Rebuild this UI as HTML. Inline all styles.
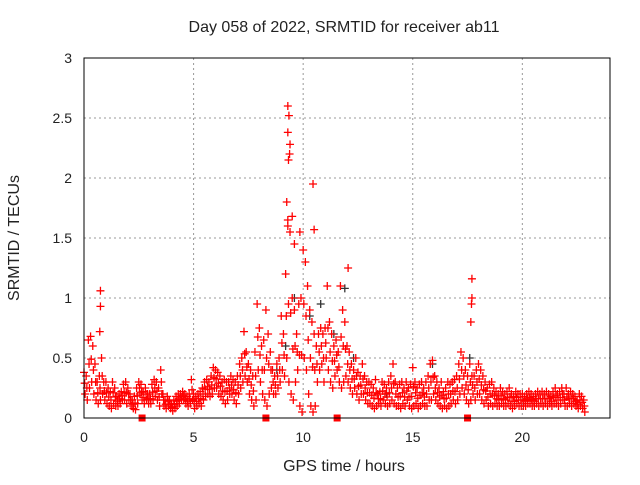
<!DOCTYPE html>
<html><head><meta charset="utf-8"><style>
body{margin:0;background:#fff}
svg text{font-family:"Liberation Sans",sans-serif;font-size:14px;fill:#222}
svg text.big{font-size:16px}
</style></head><body>
<svg id="c" width="640" height="480">
<text class="big" x="344" y="32" text-anchor="middle">Day 058 of 2022, SRMTID for receiver ab11</text>
<text class="big" x="344" y="471" text-anchor="middle">GPS time / hours</text>
<text class="big" transform="translate(19,238) rotate(-90)" text-anchor="middle">SRMTID / TECUs</text>
<g id="grid"></g><g id="ticks"></g><g id="marks"></g>
<rect x="84" y="58" width="526" height="360" fill="none" stroke="#000"/>
</svg>
<script>
const xTicks=[0,5,10,15,20];
const yTicks=[0,0.5,1,1.5,2,2.5,3];
const yTickLabels=["0","0.5","1","1.5","2","2.5","3"];
const times=[0.0,0.1,0.2,0.3,0.4,0.5,0.6,0.7,0.8,0.9,1.0,1.1,1.2,1.3,1.4,1.5,1.6,1.7,1.8,1.9,2.0,2.1,2.2,2.3,2.4,2.5,2.6,2.7,2.8,2.9,3.0,3.1,3.2,3.3,3.4,3.5,3.6,3.7,3.8,3.9,4.0,4.1,4.2,4.3,4.4,4.5,4.6,4.7,4.8,4.9,5.0,5.1,5.2,5.3,5.4,5.5,5.6,5.7,5.8,5.9,6.0,6.1,6.2,6.3,6.4,6.5,6.6,6.7,6.8,6.9,7.0,7.1,7.2,7.3,7.4,7.5,7.6,7.7,7.8,7.9,8.0,8.1,8.2,8.3,8.4,8.5,8.6,8.7,8.8,8.9,9.0,9.1,9.2,9.3,9.4,9.5,9.6,9.7,9.8,9.9,10.0,10.1,10.2,10.3,10.4,10.5,10.6,10.7,10.8,10.9,11.0,11.1,11.2,11.3,11.4,11.5,11.6,11.7,11.8,11.9,12.0,12.1,12.2,12.3,12.4,12.5,12.6,12.7,12.8,12.9,13.0,13.1,13.2,13.3,13.4,13.5,13.6,13.7,13.8,13.9,14.0,14.1,14.2,14.3,14.4,14.5,14.6,14.7,14.8,14.9,15.0,15.1,15.2,15.3,15.4,15.5,15.6,15.7,15.8,15.9,16.0,16.1,16.2,16.3,16.4,16.5,16.6,16.7,16.8,16.9,17.0,17.1,17.2,17.3,17.4,17.5,17.6,17.7,17.8,17.9,18.0,18.1,18.2,18.3,18.4,18.5,18.6,18.7,18.8,18.9,19.0,19.1,19.2,19.3,19.4,19.5,19.6,19.7,19.8,19.9,20.0,20.1,20.2,20.3,20.4,20.5,20.6,20.7,20.8,20.9,21.0,21.1,21.2,21.3,21.4,21.5,21.6,21.7,21.8,21.9,22.0,22.1,22.2,22.3,22.4,22.5,22.6,22.7,22.8];
const valsA=[.38,.35,.65,.68,.6,.45,.3,.35,.5,.3,.3,.25,.22,.3,.25,.18,.2,.22,.28,.3,.25,.2,.15,.18,.25,.3,.28,.22,.25,.2,.2,.28,.32,.3,.25,.4,.2,.15,.18,.15,.12,.15,.18,.2,.2,.22,.2,.18,.2,.32,.2,.18,.2,.22,.25,.3,.32,.3,.35,.42,.4,.38,.35,.3,.32,.3,.3,.35,.32,.3,.35,.45,.5,.72,.55,.45,.4,.35,.55,.95,.75,.6,.65,.9,.7,.55,.4,.35,.45,.5,.85,.7,1.2,1.6,1.55,1.0,.9,.7,.95,1.0,1.4,1.3,1.1,.9,.8,.7,.6,.7,.75,.7,.75,1.1,.8,.7,.6,.65,.55,1.1,.9,.8,.6,.55,.45,.4,.5,.38,.35,.45,.35,.3,.3,.28,.25,.32,.2,.22,.3,.28,.25,.3,.35,.45,.3,.25,.28,.3,.25,.3,.25,.28,.42,.3,.25,.28,.3,.25,.3,.35,.45,.48,.35,.3,.25,.3,.22,.25,.3,.28,.3,.32,.35,.45,.55,.5,.4,.35,.45,.35,.35,.4,.45,.4,.35,.3,.25,.28,.3,.25,.22,.2,.25,.22,.2,.22,.25,.2,.18,.22,.2,.2,.2,.18,.2,.22,.2,.18,.2,.22,.2,.22,.2,.22,.2,.18,.22,.25,.2,.22,.25,.2,.25,.2,.22,.2,.18,.15,.2,.18,.15];
const valsB=[.2,.15,.25,.3,.2,.15,.12,.15,.2,.15,.12,.1,.08,.12,.1,.1,.12,.15,.15,.12,.15,.1,.08,.07,.12,.2,.15,.12,.15,.12,.12,.15,.18,.15,.1,.2,.1,.08,.1,.08,.06,.08,.1,.12,.15,.15,.12,.1,.12,.15,.08,.1,.12,.1,.15,.18,.2,.18,.2,.25,.25,.2,.18,.15,.12,.15,.2,.2,.15,.12,.2,.25,.3,.35,.3,.2,.15,.1,.15,.4,.3,.2,.15,.1,.2,.25,.2,.2,.25,.3,.4,.35,.5,.3,.2,.15,.3,.4,.1,.05,.5,.4,.2,.1,.05,.1,.3,.4,.45,.3,.5,.4,.3,.25,.35,.4,.3,.25,.3,.35,.3,.25,.2,.25,.2,.15,.2,.2,.15,.12,.12,.1,.08,.1,.12,.1,.15,.12,.1,.12,.15,.12,.1,.1,.08,.12,.1,.15,.1,.08,.1,.12,.08,.1,.12,.1,.1,.15,.15,.2,.15,.12,.1,.08,.1,.08,.1,.12,.15,.12,.15,.2,.25,.2,.15,.12,.15,.2,.15,.2,.2,.15,.12,.15,.1,.12,.1,.12,.1,.1,.12,.1,.1,.12,.1,.08,.1,.12,.1,.1,.1,.1,.12,.12,.1,.1,.12,.1,.12,.1,.12,.1,.12,.1,.12,.12,.1,.12,.15,.1,.1,.12,.1,.12,.1,.08,.1,.08,.05];
const outTimes=[0.75,0.75,0.72,9.3,9.35,9.3,9.4,9.38,9.33,9.25,9.3,10.45,10.5,17.7,17.7,17.68,17.65,12.05,9.5,9.6,9.85];
const outVals=[1.06,0.93,0.72,2.6,2.52,2.38,2.28,2.2,2.15,1.8,1.65,1.95,1.57,1.16,1.0,0.95,0.8,1.25,1.68,1.45,1.55];
const grayTimes=[9.2,9.6,10.3,10.8,11.4,11.9,12.3,8.8,15.9,17.6,13.8];
const grayVals=[0.6,1.0,0.85,0.95,0.7,1.08,0.5,0.4,0.45,0.5,0.2];
const sqTimes=[2.65,8.3,11.55,17.5];
const NS="http://www.w3.org/2000/svg";
const X=v=>84+v*(526/24), Y=v=>418-v*120;
const grid=document.getElementById('grid'),ticks=document.getElementById('ticks'),marks=document.getElementById('marks');
function mk(t,a,p){const e=document.createElementNS(NS,t);for(const k in a)e.setAttribute(k,a[k]);p.appendChild(e);return e;}
xTicks.forEach(v=>{
 if(v>0){const g=mk('line',{x1:X(v),x2:X(v),y1:58,y2:418,stroke:'#999','stroke-dasharray':'2,3'},grid);
 
 }
 const t=mk('text',{x:X(v),y:442,'text-anchor':'middle'},ticks);t.textContent=v;
 
 
});
yTicks.forEach((v,i)=>{
 if(v>0&&v<3){const g=mk('line',{x1:84,x2:610,y1:Y(v),y2:Y(v),stroke:'#999','stroke-dasharray':'2,3'},grid);
 
 }
 const t=mk('text',{x:72,y:Y(v)+5,'text-anchor':'end'},ticks);t.textContent=yTickLabels[i];
 
 
});
function plus(x,y,c,name){const p=mk('path',{d:`M${x-4},${y}h8M${x},${y-4}v8`,stroke:c,'stroke-width':1.3,fill:'none'},marks);
 
 }
grayTimes.forEach((t,i)=>plus(X(t),Y(grayVals[i]),'#333','gray-point'));
times.forEach((t,i)=>{plus(X(t),Y(valsA[i]),'#f00','point-a');plus(X(t+0.05),Y(valsB[i]),'#f00','point-b');plus(X(t+0.03),Y((valsA[i]+valsB[i])/2),'#f00','point-mid');});
outTimes.forEach((t,i)=>plus(X(t),Y(outVals[i]),'#f00','outlier-point'));
sqTimes.forEach(t=>{const r=mk('rect',{x:X(t)-3.5,y:414.5,width:7,height:7,fill:'#f00'},marks);
 
 });
</script>
</body></html>
